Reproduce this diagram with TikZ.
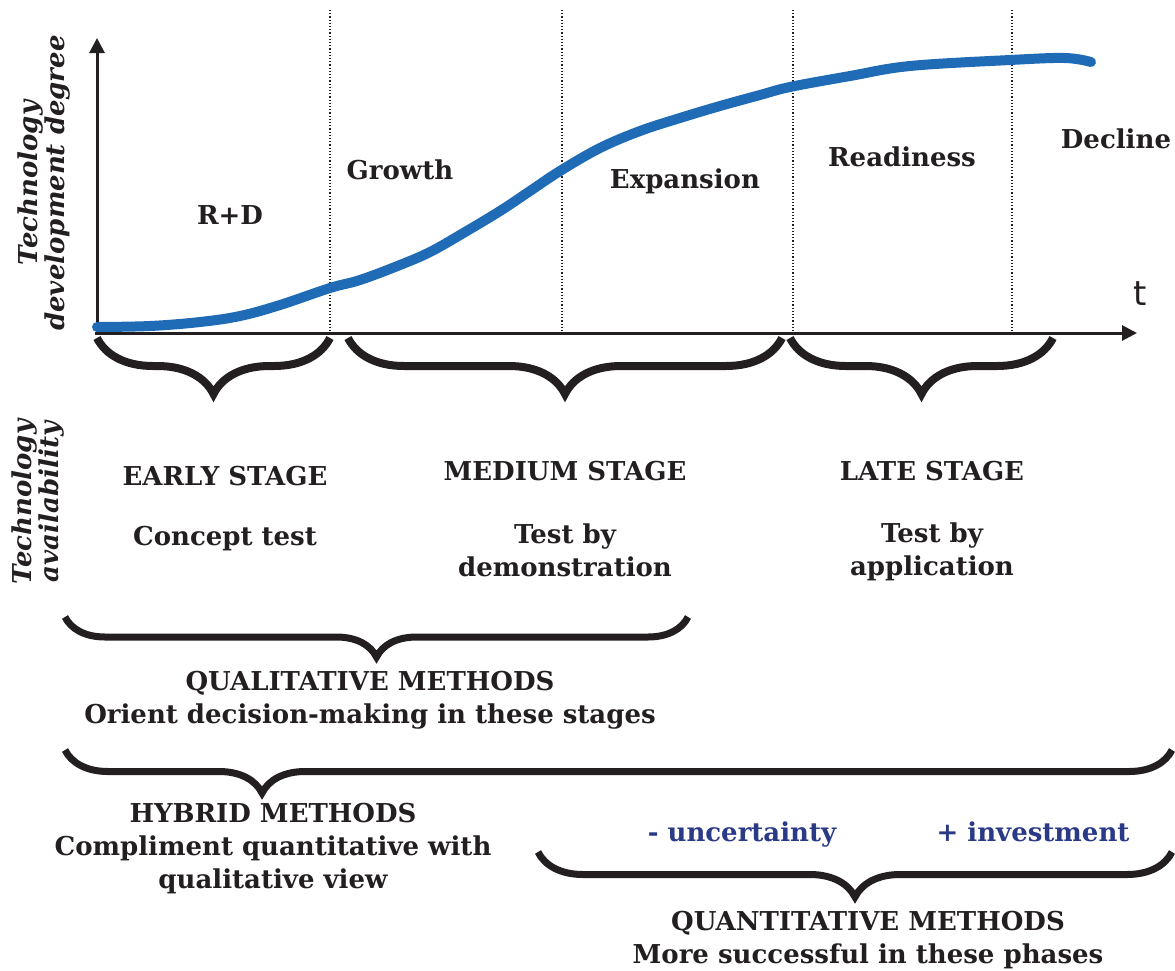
\documentclass[tikz,border=0pt]{standalone}
\usepackage{fontspec}
\setmainfont{DejaVu Serif}
\newfontfamily\axisfont{DejaVu Sans}
\usetikzlibrary{decorations.pathreplacing,arrows.meta}
\definecolor{curveblue}{HTML}{1F6BB5}
\definecolor{ink}{HTML}{231F20}
\definecolor{navy}{HTML}{2B3A87}
\begin{document}
\begin{tikzpicture}[
  x = 0.5pt, y = -0.5pt,
  stagetext/.style = {
    font = \bfseries\fontsize{13}{16.5}\selectfont,
    text = ink,
    align = center,
    inner sep = 0pt,
  },
  sidetext/.style = {
    font = \bfseries\itshape\fontsize{13}{11.5}\selectfont,
    text = ink,
    align = center,
    rotate = 90,
    inner sep = 0pt,
  },
  curly/.style = {
    decorate,
    decoration = {brace, amplitude = #1},
    line width = 3.5pt,
    color = ink,
  },
  phase/.style = {
    densely dotted,
    line width = 0.6pt,
    color = ink,
  },
  axis/.style = {
    line width = 1.5pt,
    color = ink,
    -{Triangle[length = 7.5pt, width = 7.5pt]},
  }
]
  \useasboundingbox (0, 0) rectangle (1175, 971);

  % axes
  \coordinate (O) at (97, 333);
  \coordinate (Ytop) at (97, 38);
  \coordinate (Xend) at (1137, 333);
  \draw[axis] (O) -- (Ytop);
  \draw[axis] (95, 333) -- (Xend);
  \node[font = \axisfont\fontsize{17}{17}\selectfont, text = ink] (t) at (1140, 294) {t};

  % phase limits
  \foreach \px/\pn in {330/P1, 562/P2, 793/P3, 1012/P4} {
    \coordinate (\pn a) at (\px, 10);
    \coordinate (\pn b) at (\px, 336);
    \draw[phase] (\pn a) -- (\pn b);
  }

  % s-curve
  \draw[curveblue, line width = 5pt, line cap = round] plot[smooth, tension = 0.6] coordinates {
    (97, 327) (150, 326) (200, 322) (240, 316) (280, 305) (330, 288)
    (360, 280) (400, 265) (430, 252) (460, 235) (500, 211) (530, 191)
    (560, 171) (600, 148) (640, 131) (680, 118) (720, 106) (760, 95)
    (790, 87) (850, 76) (910, 66) (1010, 60) (1065, 58) (1091, 62)
  };

  \node[sidetext] (ydeg) at (44, 183) {Technology\\development degree};
  \node[sidetext] (avail) at (38, 502) {Technology\\availability};

  \node[stagetext] (rd) at (230, 215) {R+D};
  \node[stagetext] (growth) at (400, 170) {Growth};
  \node[stagetext] (expansion) at (685, 181) {Expansion};
  \node[stagetext] (readiness) at (902, 157) {Readiness};
  \node[stagetext] (decline) at (1116, 139) {Decline};

  % stage braces
  \coordinate (B1r) at (330, 338);
  \coordinate (B1l) at (97, 338);
  \coordinate (B2r) at (782, 338);
  \coordinate (B2l) at (348, 338);
  \coordinate (B3r) at (1053, 338);
  \coordinate (B3l) at (790, 338);
  \draw[curly = 28pt, line width = 4pt] (B1r) -- (B1l);
  \draw[curly = 28pt, line width = 4pt] (B2r) -- (B2l);
  \draw[curly = 28pt, line width = 4pt] (B3r) -- (B3l);

  \node[stagetext] (early) at (225, 476) {EARLY STAGE};
  \node[stagetext] (concept) at (225, 539) {Concept test};
  \node[stagetext] (medium) at (565, 471) {MEDIUM STAGE};
  \node[stagetext] (demo) at (565, 550) {Test by\\demonstration};
  \node[stagetext] (late) at (932, 471) {LATE STAGE};
  \node[stagetext] (appl) at (932, 552) {Test by\\application};

  % method braces
  \coordinate (Qlr) at (688, 617);
  \coordinate (Qll) at (65, 617);
  \coordinate (Hr) at (1172, 750);
  \coordinate (Hl) at (65, 750);
  \coordinate (Qnr) at (1172, 852);
  \coordinate (Qnl) at (538, 852);
  \draw[curly = 20pt] (Qlr) -- (Qll);
  \draw[curly = 21.5pt, decoration = {aspect = 0.822}] (Hr) -- (Hl);
  \draw[curly = 22.5pt] (Qnr) -- (Qnl);

  \node[stagetext] (qual) at (370, 700) {QUALITATIVE METHODS\\Orient decision-making in these stages};
  \node[stagetext] (hybrid) at (273, 849) {HYBRID METHODS\\Compliment quantitative with\\qualitative view};
  \node[stagetext, text = navy] (uncert) at (742, 834) {- uncertainty};
  \node[stagetext, text = navy] (invest) at (1033, 832) {+ investment};
  \node[stagetext] (quant) at (868, 940) {QUANTITATIVE METHODS\\More successful in these phases};
\end{tikzpicture}
\end{document}
